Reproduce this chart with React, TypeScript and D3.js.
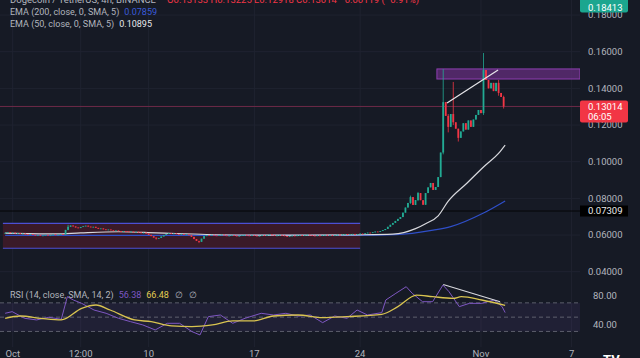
import React from "react";
import * as d3 from "d3";

const W = 640;
const H = 358;
const START = Date.UTC(2023, 8, 30, 12);
const STEP = 4 * 3600 * 1000;

const closes = [
  0.0612, 0.0615, 0.0611, 0.0613, 0.0609, 0.061, 0.0606, 0.0608, 0.0604, 0.0602,
  0.0605, 0.06, 0.0598, 0.06, 0.0596, 0.0598, 0.0601, 0.0597, 0.0599, 0.0603,
  0.06, 0.0602, 0.0605, 0.0603, 0.0628, 0.0645, 0.0652, 0.0647, 0.0641, 0.0638,
  0.0644, 0.0648, 0.0651, 0.0646, 0.0642, 0.0645, 0.0639, 0.0634, 0.0636, 0.0631,
  0.0628, 0.063, 0.0626, 0.0623, 0.0625, 0.0621, 0.0619, 0.0622, 0.062, 0.0617,
  0.0619, 0.0616, 0.0618, 0.0614, 0.0611, 0.0613, 0.0608, 0.0601, 0.0594, 0.0586,
  0.058, 0.0584, 0.0592, 0.06, 0.0606, 0.061, 0.0607, 0.0609, 0.0605, 0.0603,
  0.0606, 0.0602, 0.0604, 0.0599, 0.059, 0.0578, 0.0568, 0.0563, 0.058, 0.0594,
  0.06, 0.0597, 0.0601, 0.0598, 0.0596, 0.0599, 0.0602, 0.0598, 0.0595, 0.0597,
  0.06, 0.0597, 0.0593, 0.0596, 0.0599, 0.0601, 0.0598, 0.0596, 0.0599, 0.0597,
  0.0594, 0.0596, 0.0599, 0.0597, 0.06, 0.0603, 0.0599, 0.0596, 0.0598, 0.0601,
  0.0598, 0.0594, 0.0591, 0.0594, 0.0597, 0.0595, 0.0598, 0.06, 0.0597, 0.0599,
  0.0602, 0.0599, 0.0597, 0.0595, 0.0598, 0.0596, 0.0599, 0.0601, 0.0598, 0.06,
  0.0597, 0.0599, 0.0602, 0.06, 0.0603, 0.0605, 0.0602, 0.0604, 0.0606, 0.0603,
  0.0605, 0.0608, 0.0606, 0.061, 0.0613, 0.0611, 0.0615, 0.0619, 0.0617, 0.0622,
  0.0627, 0.0633, 0.0645, 0.0656, 0.0666, 0.0677, 0.0688, 0.0698, 0.0722, 0.075,
  0.0775, 0.0807, 0.0764, 0.0791, 0.0829, 0.079, 0.0765, 0.0829, 0.086, 0.0884,
  0.0846, 0.0862, 0.0916, 0.105, 0.1325, 0.125, 0.119, 0.126, 0.1215, 0.118,
  0.113, 0.1165, 0.121, 0.1175, 0.1225, 0.119, 0.123, 0.1255, 0.1282, 0.1265,
  0.15, 0.1446, 0.14, 0.143, 0.1385, 0.143, 0.1375, 0.1353, 0.13014,
];
const firstOpen = 0.061;

// [index, high, low]
const wicks: [number, number, number][] = [
  [25, 0.0656, 0.0626], [60, 0.0586, 0.0575], [77, 0.0568, 0.0556],
  [161, 0.0815, 0.077], [164, 0.0835, 0.0785], [174, 0.1505, 0.104],
  [176, 0.126, 0.116], [178, 0.1435, 0.12], [180, 0.118, 0.111],
  [190, 0.1593, 0.1255], [196, 0.1446, 0.136], [198, 0.136, 0.129],
];

// [index, value]
const ema50: [number, number][] = [
  [0, 0.061], [20, 0.0606], [30, 0.0612], [45, 0.0618], [60, 0.0612], [80, 0.0603],
  [100, 0.06], [120, 0.0599], [140, 0.0601], [154, 0.0605], [163, 0.0635],
  [167, 0.0662], [172, 0.0705], [176, 0.0785], [183.5, 0.0884], [190, 0.0971],
  [196.6, 0.1055], [198.6, 0.109],
];
const ema200: [number, number][] = [
  [0, 0.0598], [60, 0.0598], [140, 0.0598], [155, 0.0602], [170, 0.0627],
  [177, 0.0646], [190, 0.072], [198.6, 0.0786],
];
const rsi: [number, number][] = [
  [0, 55.4], [2.8, 57.7], [7.7, 48.4], [12.5, 46.1], [17.4, 49.8], [22.3, 47],
  [24.7, 78.6], [27.1, 74], [30.4, 69.3], [35.3, 60], [40.1, 55.4], [45, 48.4],
  [49.8, 43.7], [54.7, 39.1], [59.6, 32.1], [64.4, 41.4], [69.3, 41.4], [74.2, 29.8],
  [77.4, 25.1], [80.7, 50.7], [85.5, 53], [90.4, 41.4], [95.3, 48.4], [101.7, 55.4],
  [106.6, 53], [111.5, 55.4], [116.3, 51.6], [121.2, 53], [126.1, 42.3], [130.9, 51.6],
  [135.8, 48.4], [139.8, 60], [143.9, 53], [149.6, 56.3], [151.2, 74], [155.2, 83.3],
  [159.3, 92.6], [161.7, 83.3], [165.8, 71.6], [169.8, 71.6], [173.9, 94.9],
  [176.3, 85.6], [180.4, 64.7], [184.4, 69.3], [189.3, 69.3], [194.2, 74],
  [197.4, 64.7], [198.6, 56.4],
];
const rsiMa: [number, number][] = [
  [0, 48.4], [6.1, 51.6], [14.2, 48.4], [22.3, 46.1], [30.4, 62.3], [36.1, 67],
  [41.7, 60], [51.5, 46.1], [58, 43.7], [66.1, 37.7], [74.2, 36.8], [82.3, 39.1],
  [90.4, 44.7], [98.5, 44.7], [106.6, 51.6], [116.3, 53], [126.1, 49.3],
  [135.8, 50.7], [149.6, 54], [156, 64.7], [163.4, 80.9], [169.8, 78.6],
  [178, 76.3], [181.2, 78.6], [189.3, 74], [198.6, 66.5],
];

const priceTicks = [0.04, 0.06, 0.08, 0.1, 0.12, 0.14, 0.16, 0.18];
const rsiTicks = [40, 80];
const rsiLevels = [70, 50, 30];
const timeTicks: [number, string][] = [
  [Date.UTC(2023, 9, 1), "Oct"],
  [Date.UTC(2023, 9, 5, 12), "12:00"],
  [Date.UTC(2023, 9, 10), "10"],
  [Date.UTC(2023, 9, 17), "17"],
  [Date.UTC(2023, 9, 24), "24"],
  [Date.UTC(2023, 10, 1), "Nov"],
  [Date.UTC(2023, 10, 7), "7"],
];
// consolidation box: [startIndex, endTime, top, bottom]
const rangeBox = { i0: -0.5, t1: Date.UTC(2023, 9, 24), top: 0.0664, bottom: 0.0528 };
const resistBox = { i0: 171.5, top: 0.1506, bottom: 0.1451 };
const priceTrend: [number, number][] = [[175.5, 0.132], [195.8, 0.15]];
const rsiTrend: [number, number][] = [[174, 95.8], [196.6, 71.6]];
const lastPrice = 0.13014;
const markPrice = 0.07309;
const topLabel = 0.18413;

const FONT = "Roboto, 'Noto Sans', sans-serif";
const PLOT_R = 580;

export default function App() {
  const x = d3
    .scaleUtc()
    .domain([new Date(Date.UTC(2023, 9, 1)), new Date(Date.UTC(2023, 10, 7))])
    .range([12.7, 571.6]);
  const xi = (i: number) => x(new Date(START + i * STEP));
  const y = d3.scaleLinear().domain([0.04, 0.16]).range([271.7, 51.7]);
  const yr = d3.scaleLinear().domain([40, 80]).range([324.3, 295.7]);

  const wickMap = new Map(wicks.map((w) => [w[0], w]));
  const candles = closes.map((c, i) => {
    const o = i === 0 ? firstOpen : closes[i - 1];
    const w = wickMap.get(i);
    const h = w ? w[1] : Math.max(o, c);
    const l = w ? w[2] : Math.min(o, c);
    return { i, o, c, h, l };
  });

  const lineP = d3
    .line<[number, number]>()
    .x((d) => xi(d[0]))
    .y((d) => y(d[1]))
    .curve(d3.curveMonotoneX);
  const lineR = d3
    .line<[number, number]>()
    .x((d) => xi(d[0]))
    .y((d) => yr(d[1]))
    .curve(d3.curveLinear);
  const lineRs = d3
    .line<[number, number]>()
    .x((d) => xi(d[0]))
    .y((d) => yr(d[1]))
    .curve(d3.curveMonotoneX);

  const green = "#22ab94";
  const red = "#f23645";
  const gray = "#b2b5be";

  return (
    <svg
      width={W}
      height={H}
      style={{ position: "absolute", left: 0, top: 0, display: "block" }}
      fontFamily={FONT}
    >
      <defs>
        <clipPath id="mainClip">
          <rect x={0} y={0} width={PLOT_R} height={282} />
        </clipPath>
        <clipPath id="rsiClip">
          <rect x={0} y={283} width={PLOT_R} height={64} />
        </clipPath>
      </defs>
      <rect x={0} y={0} width={W} height={H} fill="#161a25" />

      {/* grid */}
      {priceTicks.map((p) => (
        <line key={"gp" + p} x1={0} x2={PLOT_R} y1={y(p)} y2={y(p)} stroke="#1f2330" />
      ))}
      {timeTicks.map(([t]) => (
        <line key={"gt" + t} x1={x(new Date(t))} x2={x(new Date(t))} y1={0} y2={347} stroke="#1f2330" />
      ))}

      <g clipPath="url(#mainClip)">
        {/* consolidation box */}
        <rect
          x={xi(rangeBox.i0) - 1}
          width={x(new Date(rangeBox.t1)) - xi(rangeBox.i0) + 1}
          y={y(rangeBox.top)}
          height={y(rangeBox.bottom) - y(rangeBox.top)}
          fill="#3a1a28"
        />
        <line x1={xi(rangeBox.i0) - 1} x2={x(new Date(rangeBox.t1))} y1={y(rangeBox.top)} y2={y(rangeBox.top)} stroke="#4c4fd4" strokeWidth={1.2} />
        <line x1={xi(rangeBox.i0) - 1} x2={x(new Date(rangeBox.t1))} y1={y(rangeBox.bottom)} y2={y(rangeBox.bottom)} stroke="#4c4fd4" strokeWidth={1.2} />

        {/* resistance box */}
        <rect
          x={xi(resistBox.i0)}
          width={PLOT_R - xi(resistBox.i0)}
          y={y(resistBox.top)}
          height={y(resistBox.bottom) - y(resistBox.top)}
          fill="#5a2c73"
          fillOpacity={0.85}
          stroke="#8e3fb0"
          strokeWidth={1}
        />

        {/* price lines */}
        <line x1={0} x2={PLOT_R} y1={y(lastPrice)} y2={y(lastPrice)} stroke="#6e2a48" strokeWidth={1} />
        <line x1={0} x2={PLOT_R} y1={y(markPrice)} y2={y(markPrice)} stroke="#050608" strokeWidth={1} />

        {/* EMAs */}
        <path d={lineP(ema200) || ""} fill="none" stroke="#2f4fc9" strokeWidth={1.2} />
        <path d={lineP(ema50) || ""} fill="none" stroke="#d8d9de" strokeWidth={1.2} />

        {/* candles */}
        {candles.map((d) => {
          const cx = xi(d.i);
          const col = d.c >= d.o ? green : red;
          const top = y(Math.max(d.o, d.c));
          const bh = Math.max(0.8, y(Math.min(d.o, d.c)) - top);
          return (
            <g key={d.i}>
              <line x1={cx} x2={cx} y1={y(d.h)} y2={y(d.l)} stroke={col} strokeWidth={0.8} />
              <rect x={cx - 0.9} width={1.8} y={top} height={bh} fill={col} />
            </g>
          );
        })}

        {/* trend line */}
        <line
          x1={xi(priceTrend[0][0])}
          y1={y(priceTrend[0][1])}
          x2={xi(priceTrend[1][0])}
          y2={y(priceTrend[1][1])}
          stroke="#e6e6ea"
          strokeWidth={1.2}
        />
      </g>

      {/* RSI pane */}
      <rect x={0} y={yr(70)} width={PLOT_R} height={yr(30) - yr(70)} fill="#7e57c2" fillOpacity={0.1} />
      {rsiLevels.map((lv) => (
        <line
          key={"lv" + lv}
          x1={0}
          x2={PLOT_R}
          y1={yr(lv)}
          y2={yr(lv)}
          stroke="#787b86"
          strokeOpacity={0.7}
          strokeDasharray="4 3"
        />
      ))}
      <g clipPath="url(#rsiClip)">
        <path d={lineR(rsi) || ""} fill="none" stroke="#7e57c2" strokeWidth={1} />
        <path d={lineRs(rsiMa) || ""} fill="none" stroke="#d9c450" strokeWidth={1.3} />
        <line
          x1={xi(rsiTrend[0][0])}
          y1={yr(rsiTrend[0][1])}
          x2={xi(rsiTrend[1][0])}
          y2={yr(rsiTrend[1][1])}
          stroke="#d8d9de"
          strokeWidth={1.1}
        />
      </g>

      {/* title (cut off at top) */}
      <text x={10} y={3} fontSize={9.5} fill={gray}>
        Dogecoin / TetherUS, 4h, BINANCE
      </text>
      <text x={167} y={3} fontSize={9.5} fill={red}>
        O0.13133 H0.13225 L0.12918 C0.13014 −0.00119 (−0.91%)
      </text>

      {/* legends */}
      <text x={10} y={15} fontSize={9} fill={gray}>
        EMA (200, close, 0, SMA, 5)
        <tspan dx={5} fill="#3a5bd9">0.07859</tspan>
      </text>
      <text x={10} y={27} fontSize={9} fill={gray}>
        EMA (50, close, 0, SMA, 5)
        <tspan dx={5} fill="#e8e9ec">0.10895</tspan>
      </text>
      <text x={10} y={298} fontSize={9} fill={gray}>
        RSI (14, close, SMA, 14, 2)
        <tspan dx={5} fill="#7e57c2">56.38</tspan>
        <tspan dx={5} fill="#e3cc52">66.48</tspan>
        <tspan dx={6}>∅</tspan>
        <tspan dx={6}>∅</tspan>
      </text>

      {/* price axis */}
      {priceTicks.map((p) => (
        <text key={"pt" + p} x={588} y={y(p) + 3.3} fontSize={9.5} fill={gray}>
          {d3.format(".5f")(p)}
        </text>
      ))}
      <rect x={580} y={-3} width={48} height={y(topLabel) + 8} fill="#1ba68f" rx={2} />
      <text x={588} y={y(topLabel) + 3.3} fontSize={9.5} fill="#ffffff">
        {d3.format(".5f")(topLabel)}
      </text>
      <rect x={580} y={y(lastPrice) - 6} width={48} height={22} fill={red} rx={2} />
      <text x={588} y={y(lastPrice) + 3.3} fontSize={9.5} fill="#ffffff">
        {d3.format(".5f")(lastPrice)}
      </text>
      <text x={588} y={y(lastPrice) + 14} fontSize={9.5} fill="#ffffff">
        06:05
      </text>
      <rect x={580} y={y(markPrice) - 5.5} width={48} height={11} fill="#000000" />
      <text x={588} y={y(markPrice) + 3.3} fontSize={9.5} fill="#e8e9ec">
        {d3.format(".5f")(markPrice)}
      </text>

      {/* rsi axis */}
      {rsiTicks.map((v) => (
        <text key={"rt" + v} x={593} y={yr(v) + 3.3} fontSize={9.5} fill={gray}>
          {d3.format(".2f")(v)}
        </text>
      ))}

      {/* time axis */}
      {timeTicks.map(([t, lab]) => (
        <text key={"tt" + t} x={x(new Date(t))} y={357} fontSize={9.5} fill={gray} textAnchor="middle">
          {lab}
        </text>
      ))}
      <text x={603} y={364} fontSize={13} fontWeight="bold" fill="#ffffff">
        TV
      </text>
    </svg>
  );
}
